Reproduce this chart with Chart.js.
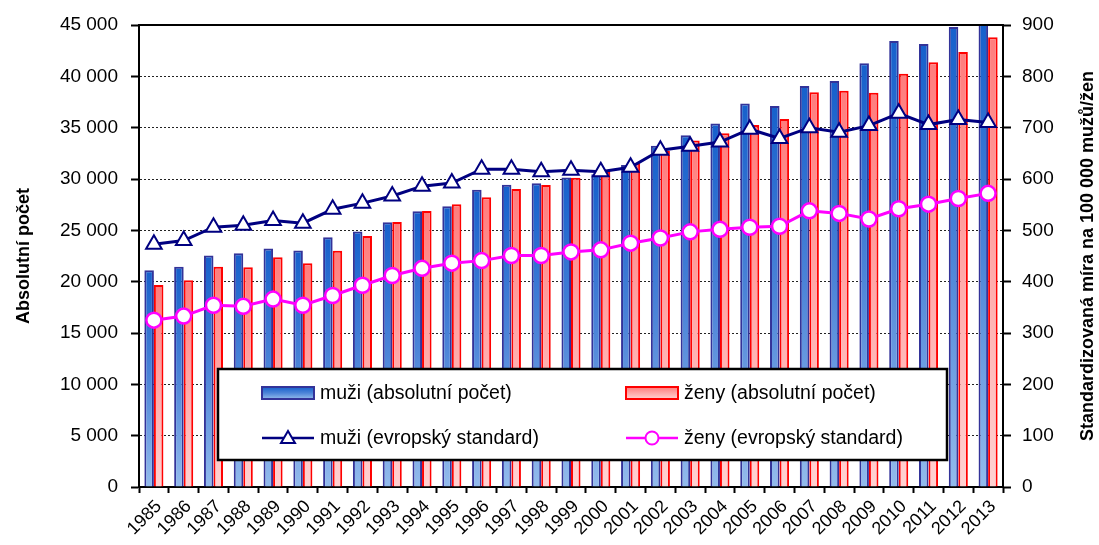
<!DOCTYPE html>
<html>
<head>
<meta charset="utf-8">
<script src="https://cdn.jsdelivr.net/npm/chart.js@4.4.0/dist/chart.umd.min.js"></script>
<style>
html,body{margin:0;padding:0;background:#fff;}
#wrap{width:1099px;height:545px;position:relative;}
</style>
</head>
<body>
<div id="wrap"><canvas id="c" width="1099" height="545"></canvas></div>
<script>
const years = ['1985','1986','1987','1988','1989','1990','1991','1992','1993','1994','1995','1996','1997','1998','1999','2000','2001','2002','2003','2004','2005','2006','2007','2008','2009','2010','2011','2012','2013'];
const muziAbs = [21100,21450,22550,22780,23230,23030,24330,24880,25790,26850,27350,28950,29430,29590,30140,30460,31360,33250,34250,35400,37360,37110,39060,39550,41270,43440,43150,44800,45100];
const zenyAbs = [19680,20150,21450,21400,22370,21790,23020,24450,25810,26890,27530,28220,29030,29410,30130,30700,31530,32740,33740,34450,35260,35840,38440,38600,38410,40260,41370,42370,43800];
const muziStd = [473,480,506,510,519,514,541,553,567,586,592,619,619,614,617,614,623,656,664,672,697,679,700,691,704,728,706,716,710];
const zenyStd = [325,333,354,352,366,354,373,393,412,426,436,441,451,451,458,462,475,485,497,502,506,508,538,533,522,542,551,562,572];
const leftTicksMax = 45000, leftStep = 5000;
const rightTicksMax = 900, rightStep = 100;
const leftTitle = 'Absolutní počet';
const rightTitle = 'Standardizovaná míra na 100 000 mužů/žen';

const FONT = '"Liberation Sans", Arial, Helvetica, sans-serif';
const BLUE_STOPS = ['#1660cc', '#4c84d8', '#93bbec'];
const RED_STOPS = ['#ff7c7c', '#ffa8a8', '#ffd2d2'];

function gradFill(stops) {
  return function(context) {
    const chart = context.chart;
    if (context.type !== 'data' || !chart.chartArea || !chart.scales.y) return stops[1];
    const y = chart.scales.y;
    const top = Math.max(y.getPixelForValue(context.raw), chart.chartArea.top);
    const base = y.getPixelForValue(0);
    if (!isFinite(top) || !isFinite(base) || base - top < 1) return stops[1];
    const g = chart.ctx.createLinearGradient(0, top, 0, base);
    g.addColorStop(0, stops[0]);
    g.addColorStop(0.5, stops[1]);
    g.addColorStop(1, stops[2]);
    return g;
  };
}

function fmt(v) {
  return String(v).replace(/\B(?=(\d{3})+(?!\d))/g, ' ');
}

const overlayPlugin = {
  id: 'overlay',
  afterDraw(chart) {
    const ctx = chart.ctx;
    const a = chart.chartArea;
    ctx.save();
    ctx.strokeStyle = '#000';
    ctx.lineWidth = 2;
    ctx.beginPath();
    ctx.moveTo(a.left - 1, a.top);
    ctx.lineTo(a.right + 1, a.top);
    ctx.stroke();

    ctx.fillStyle = '#000';
    ctx.font = 'bold 18px ' + FONT;
    ctx.textAlign = 'center';
    ctx.textBaseline = 'middle';
    const cy = (a.top + a.bottom) / 2;
    ctx.save(); ctx.translate(24, cy); ctx.rotate(-Math.PI / 2); ctx.fillText(leftTitle, 0, 0); ctx.restore();
    ctx.save(); ctx.translate(1088, cy); ctx.rotate(-Math.PI / 2); ctx.fillText(rightTitle, 0, 0); ctx.restore();

    const L = 218, T = 369, W = 729, H = 91;
    ctx.fillStyle = '#fff';
    ctx.fillRect(L, T, W, H);
    ctx.strokeStyle = '#000';
    ctx.lineWidth = 2.5;
    ctx.strokeRect(L, T, W, H);

    const ds = chart.data.datasets;
    const rows = [393, 438];
    const cols = [262, 626];
    const mw = 52;
    ctx.font = '19.5px ' + FONT;
    ctx.textAlign = 'left';
    ctx.textBaseline = 'middle';

    const sw = [[ds[0], BLUE_STOPS, '#333399', cols[0]], [ds[1], RED_STOPS, '#ff0000', cols[1]]];
    sw.forEach(([d, stops, border, x]) => {
      const y0 = rows[0] - 6, h = 12;
      const g = ctx.createLinearGradient(0, y0, 0, y0 + h);
      g.addColorStop(0, stops[0]); g.addColorStop(0.5, stops[1]); g.addColorStop(1, stops[2]);
      ctx.fillStyle = g;
      ctx.fillRect(x, y0, mw, h);
      ctx.strokeStyle = border; ctx.lineWidth = 2;
      ctx.strokeRect(x, y0, mw, h);
      ctx.fillStyle = '#000';
      ctx.fillText(d.label, x + mw + 6, rows[0] + 1);
    });

    const ls = [[ds[2], '#000080', 'triangle', cols[0]], [ds[3], '#ff00ff', 'circle', cols[1]]];
    ls.forEach(([d, col, style, x]) => {
      const y = rows[1];
      ctx.strokeStyle = col; ctx.lineWidth = 2.5;
      ctx.beginPath(); ctx.moveTo(x, y); ctx.lineTo(x + mw, y); ctx.stroke();
      const cx = x + mw / 2;
      ctx.fillStyle = '#fff';
      ctx.lineWidth = 2;
      ctx.beginPath();
      if (style === 'circle') {
        ctx.arc(cx, y, 6.5, 0, Math.PI * 2);
      } else {
        ctx.moveTo(cx, y - 7);
        ctx.lineTo(cx + 7, y + 5);
        ctx.lineTo(cx - 7, y + 5);
        ctx.closePath();
      }
      ctx.fill(); ctx.stroke();
      ctx.fillStyle = '#000';
      ctx.fillText(d.label, x + mw + 6, y + 1);
    });
    ctx.restore();
  }
};

new Chart(document.getElementById('c'), {
  type: 'bar',
  data: {
    labels: years,
    datasets: [
      { type: 'bar', label: 'muži (absolutní počet)', data: muziAbs, yAxisID: 'y',
        backgroundColor: gradFill(BLUE_STOPS), borderColor: '#333399', borderWidth: 2,
        categoryPercentage: 0.64, barPercentage: 1.0, order: 2 },
      { type: 'bar', label: 'ženy (absolutní počet)', data: zenyAbs, yAxisID: 'y',
        backgroundColor: gradFill(RED_STOPS), borderColor: '#ff0000', borderWidth: 2,
        categoryPercentage: 0.64, barPercentage: 1.0, order: 2 },
      { type: 'line', label: 'muži (evropský standard)', data: muziStd, yAxisID: 'y1',
        borderColor: '#000080', borderWidth: 3, pointStyle: 'triangle', pointRadius: 9,
        pointBackgroundColor: '#fff', pointBorderColor: '#000080', pointBorderWidth: 2,
        tension: 0, order: 0 },
      { type: 'line', label: 'ženy (evropský standard)', data: zenyStd, yAxisID: 'y1',
        borderColor: '#ff00ff', borderWidth: 3, pointStyle: 'circle', pointRadius: 7.5,
        pointBackgroundColor: '#fff', pointBorderColor: '#ff00ff', pointBorderWidth: 2.5,
        tension: 0, order: 1 }
    ]
  },
  options: {
    responsive: false,
    animation: false,
    devicePixelRatio: 1,
    layout: { padding: { top: 25, left: 0, right: 0, bottom: 0 } },
    plugins: { legend: { display: false }, tooltip: { enabled: false } },
    scales: {
      x: {
        offset: true,
        grid: { display: true, drawOnChartArea: false, offset: true, tickLength: 6, tickColor: '#000', tickWidth: 2 },
        border: { display: true, color: '#000', width: 2 },
        ticks: { color: '#000', font: { family: FONT, size: 18 }, maxRotation: 45, minRotation: 45, autoSkip: false, padding: 3, labelOffset: 5 },
        afterFit(s) { s.height = 58; }
      },
      y: {
        position: 'left', min: 0, max: leftTicksMax,
        ticks: { stepSize: leftStep, color: '#000', font: { family: FONT, size: 19 }, padding: 13, callback: v => fmt(v) },
        grid: { color: '#222', lineWidth: 1, tickLength: 8, tickColor: '#000', tickWidth: 2, tickBorderDash: [] },
        border: { display: true, color: '#000', width: 2, dash: [2, 2] },
        afterFit(s) { s.width = 139; }
      },
      y1: {
        position: 'right', min: 0, max: rightTicksMax,
        ticks: { stepSize: rightStep, color: '#000', font: { family: FONT, size: 19 }, padding: 11 },
        grid: { drawOnChartArea: false, tickLength: 8, tickColor: '#000', tickWidth: 2 },
        border: { display: true, color: '#000', width: 2 },
        afterFit(s) { s.width = 96; }
      }
    }
  },
  plugins: [overlayPlugin]
});
</script>
</body>
</html>
